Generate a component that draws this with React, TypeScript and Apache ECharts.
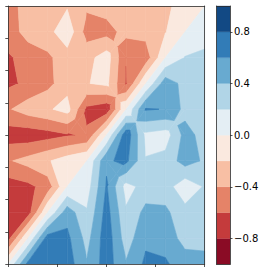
import React, { useEffect, useRef } from "react";
import * as echarts from "echarts";

// grid node coordinates
const X_NODES = [0, 1, 2, 3, 4, 5, 6, 7, 8, 9, 10];
const Y_NODES = [0, 1, 2, 3, 4, 5, 6, 7, 8, 9, 10];

// field values, one array per y node (bottom row first), left to right
const Z_Y0 = [0, 0.66, 0.72, 0.7, 0.42, 0.7, 0.42, 0.64, 0.62, 0.52, 0.48];
const Z_Y1 = [-0.66, 0, 0.7, 0.65, 0.33, 0.72, 0.3, 0.56, 0.54, 0.31, 0.32];
const Z_Y2 = [-0.72, -0.7, 0, 0.52, 0.22, 0.68, 0.23, 0.46, 0.44, 0.27, 0.3];
const Z_Y3 = [-0.7, -0.65, -0.52, 0, 0.1, 0.62, 0.12, 0.28, 0.29, 0.06, 0.22];
const Z_Y4 = [-0.42, -0.33, -0.22, -0.1, 0, 0.57, 0.65, 0.21, 0.27, 0.49, 0.37];
const Z_Y5 = [-0.7, -0.72, -0.68, -0.62, -0.57, 0, 0.74, 0.15, 0.1, 0.47, 0.33];
const Z_Y6 = [-0.42, -0.3, -0.23, -0.12, -0.65, -0.74, 0, 0.62, 0.59, 0.34, 0.29];
const Z_Y7 = [-0.64, -0.56, -0.46, -0.28, -0.21, -0.15, -0.62, 0, 0.52, 0.33, 0.27];
const Z_Y8 = [-0.62, -0.54, -0.44, -0.29, -0.27, -0.1, -0.59, -0.52, 0, 0.21, 0.24];
const Z_Y9 = [-0.52, -0.31, -0.27, -0.06, -0.49, -0.47, -0.34, -0.33, -0.21, 0, 0.12];
const Z_Y10 = [-0.48, -0.32, -0.3, -0.22, -0.37, -0.33, -0.29, -0.27, -0.24, -0.12, 0];

// contour levels and band colours (RdBu)
const LEVELS = [-1, -0.8, -0.6, -0.4, -0.2, 0, 0.2, 0.4, 0.6, 0.8, 1];
const BAND_COLORS = [
  "#8a0b25",
  "#c43b3c",
  "#e58368",
  "#f8bfa4",
  "#fae9df",
  "#e4eef4",
  "#b1d5e7",
  "#68aad0",
  "#327cb7",
  "#124984",
];
const CBAR_TICKS = [-0.8, -0.4, 0, 0.4, 0.8];
const X_TICK_STEP = 2.5;
const Y_TICK_STEP = 1.25;

const Z = [Z_Y0, Z_Y1, Z_Y2, Z_Y3, Z_Y4, Z_Y5, Z_Y6, Z_Y7, Z_Y8, Z_Y9, Z_Y10];

type P = { x: number; y: number; v: number };

function clip(pts: P[], keepAbove: boolean, level: number): P[] {
  const out: P[] = [];
  const inside = (v: number) => (keepAbove ? v >= level : v <= level);
  for (let k = 0; k < pts.length; k++) {
    const a = pts[k];
    const b = pts[(k + 1) % pts.length];
    const ia = inside(a.v);
    const ib = inside(b.v);
    if (ia) out.push(a);
    if (ia !== ib) {
      const t = (level - a.v) / (b.v - a.v);
      out.push({ x: a.x + t * (b.x - a.x), y: a.y + t * (b.y - a.y), v: level });
    }
  }
  return out;
}

function area(pts: P[]) {
  let s = 0;
  for (let k = 0; k < pts.length; k++) {
    const a = pts[k];
    const b = pts[(k + 1) % pts.length];
    s += a.x * b.y - b.x * a.y;
  }
  return Math.abs(s) / 2;
}

function isSaddle(poly: P[]) {
  for (let l = 1; l < LEVELS.length - 1; l++) {
    const s = poly.map((p) => p.v >= LEVELS[l]);
    if (s[0] === s[2] && s[1] === s[3] && s[0] !== s[1]) return true;
  }
  return false;
}

export default function App() {
  const ref = useRef<HTMLDivElement>(null);

  useEffect(() => {
    if (!ref.current) return;
    const chart = echarts.init(ref.current, undefined, { renderer: "svg" });

    const cells: number[][] = [];
    for (let i = 0; i < Y_NODES.length - 1; i++) {
      for (let j = 0; j < X_NODES.length - 1; j++) {
        cells.push([
          X_NODES[j],
          Y_NODES[i],
          X_NODES[j + 1],
          Y_NODES[i + 1],
          Z[i][j],
          Z[i][j + 1],
          Z[i + 1][j + 1],
          Z[i + 1][j],
        ]);
      }
    }

    const bands: number[][] = [];
    for (let b = 0; b < LEVELS.length - 1; b++) bands.push([LEVELS[b], LEVELS[b + 1], b]);

    const frame = { color: "#2b2b2b", width: 0.8 };
    const font = "DejaVu Sans";

    const option: any = {
      animation: false,
      grid: [
        { left: 8.3, top: 6, width: 196.4, height: 258, outerBoundsMode: "none", containLabel: false },
        { left: 216.7, top: 6, width: 13.3, height: 258.3, outerBoundsMode: "none", containLabel: false },
      ],
      xAxis: [
        {
          gridIndex: 0, type: "value", min: 0, max: 10, interval: X_TICK_STEP, position: "bottom", z: 10,
          axisLine: { show: true, onZero: false, lineStyle: frame },
          axisTick: { show: true, inside: false, length: 3, lineStyle: frame },
          axisLabel: { show: false }, splitLine: { show: false },
        },
        {
          gridIndex: 0, type: "value", min: 0, max: 10, position: "top", z: 10,
          axisLine: { show: true, onZero: false, lineStyle: frame },
          axisTick: { show: false }, axisLabel: { show: false }, splitLine: { show: false },
        },
        {
          gridIndex: 1, type: "value", min: 0, max: 1, position: "bottom", z: 10,
          axisLine: { show: true, onZero: false, lineStyle: frame },
          axisTick: { show: false }, axisLabel: { show: false }, splitLine: { show: false },
        },
        {
          gridIndex: 1, type: "value", min: 0, max: 1, position: "top", z: 10,
          axisLine: { show: true, onZero: false, lineStyle: frame },
          axisTick: { show: false }, axisLabel: { show: false }, splitLine: { show: false },
        },
      ],
      yAxis: [
        {
          gridIndex: 0, type: "value", min: 0, max: 10, interval: Y_TICK_STEP, position: "left", z: 10,
          axisLine: { show: true, onZero: false, lineStyle: frame },
          axisTick: { show: true, inside: false, length: 3, lineStyle: frame },
          axisLabel: { show: false }, splitLine: { show: false },
        },
        {
          gridIndex: 0, type: "value", min: 0, max: 10, position: "right", z: 10,
          axisLine: { show: true, onZero: false, lineStyle: frame },
          axisTick: { show: false }, axisLabel: { show: false }, splitLine: { show: false },
        },
        {
          gridIndex: 1, type: "value", min: -1, max: 1, position: "left", z: 10,
          axisLine: { show: true, onZero: false, lineStyle: frame },
          axisTick: { show: false }, axisLabel: { show: false }, splitLine: { show: false },
        },
        {
          gridIndex: 1, type: "value", min: -1, max: 1, position: "right", z: 10,
          axisLine: { show: true, onZero: false, lineStyle: frame },
          axisTick: { show: true, inside: false, length: 2.5, lineStyle: frame, customValues: CBAR_TICKS },
          axisLabel: {
            show: true,
            customValues: CBAR_TICKS,
            margin: 4,
            fontSize: 10,
            fontFamily: font,
            color: "#000",
            formatter: (v: number) => (v < 0 ? "\u2212" : "") + Math.abs(v).toFixed(1),
          },
          splitLine: { show: false },
        },
      ],
      series: [
        {
          type: "custom",
          coordinateSystem: "cartesian2d",
          xAxisIndex: 0,
          yAxisIndex: 0,
          clip: true,
          silent: true,
          encode: { x: [0, 2], y: [1, 3] },
          data: cells,
          renderItem: (params: any, api: any) => {
            const x0 = api.value(0), y0 = api.value(1), x1 = api.value(2), y1 = api.value(3);
            const vals = [api.value(4), api.value(5), api.value(6), api.value(7)];
            const cs = [
              api.coord([x0, y0]),
              api.coord([x1, y0]),
              api.coord([x1, y1]),
              api.coord([x0, y1]),
            ];
            const poly: P[] = cs.map((c: number[], k: number) => ({ x: c[0], y: c[1], v: vals[k] }));
            let pieces: P[][] = [poly];
            if (isSaddle(poly)) {
              const ctr: P = {
                x: (poly[0].x + poly[1].x + poly[2].x + poly[3].x) / 4,
                y: (poly[0].y + poly[1].y + poly[2].y + poly[3].y) / 4,
                v: (poly[0].v + poly[1].v + poly[2].v + poly[3].v) / 4,
              };
              pieces = [0, 1, 2, 3].map((k) => [ctr, poly[k], poly[(k + 1) % 4]]);
            }
            const children: any[] = [];
            for (const piece of pieces) {
              for (let b = 0; b < LEVELS.length - 1; b++) {
                let pp = clip(piece, true, LEVELS[b]);
                if (pp.length < 3) continue;
                pp = clip(pp, false, LEVELS[b + 1]);
                if (pp.length < 3 || area(pp) < 1e-3) continue;
                children.push({
                  type: "polygon",
                  shape: { points: pp.map((p) => [p.x, p.y]) },
                  style: { fill: BAND_COLORS[b], stroke: BAND_COLORS[b], lineWidth: 0.6, lineJoin: "round" },
                });
              }
            }
            return { type: "group", children };
          },
        },
        {
          type: "custom",
          coordinateSystem: "cartesian2d",
          xAxisIndex: 2,
          yAxisIndex: 3,
          silent: true,
          encode: { y: [0, 1] },
          data: bands,
          renderItem: (params: any, api: any) => {
            const lo = api.value(0), hi = api.value(1), b = api.value(2);
            const p0 = api.coord([0, hi]);
            const p1 = api.coord([1, lo]);
            return {
              type: "rect",
              shape: { x: p0[0], y: p0[1], width: p1[0] - p0[0], height: p1[1] - p0[1] },
              style: { fill: BAND_COLORS[b], stroke: BAND_COLORS[b], lineWidth: 0.3 },
            };
          },
        },
      ],
    };

    chart.setOption(option);
    return () => chart.dispose();
  }, []);

  return (
    <div
      ref={ref}
      style={{ position: "absolute", left: 0, top: 0, width: 273, height: 273, background: "#fff" }}
    />
  );
}
